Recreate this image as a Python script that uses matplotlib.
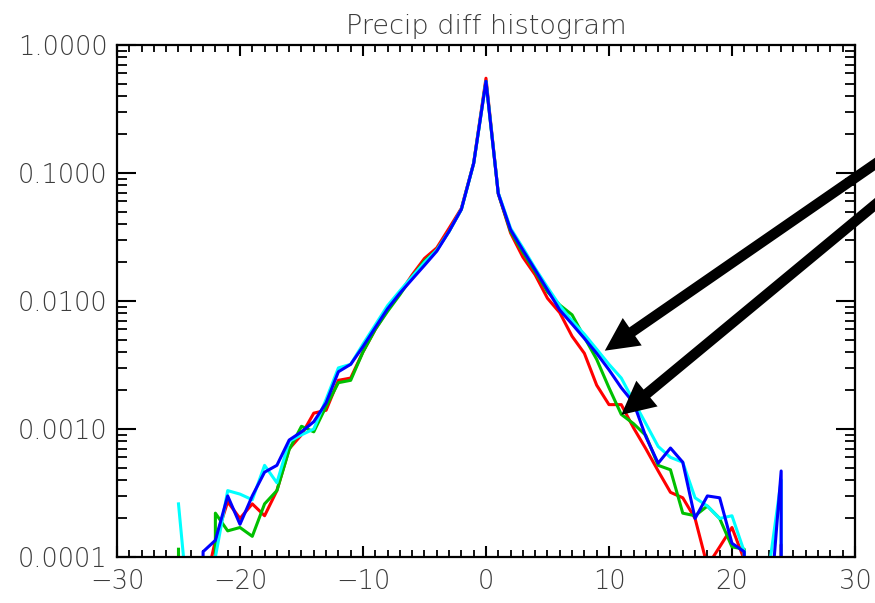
"""
Precipitation difference histogram: fraction of points per 1-unit bin,
four runs overlaid on a log axis, with two annotation arrows.
"""

import matplotlib
matplotlib.use("Agg")
import matplotlib.pyplot as plt
from matplotlib.ticker import MultipleLocator, LogLocator, FixedLocator, NullFormatter
import numpy as np

# bin centres
bins = np.arange(-25, 26)

# histogram fraction per bin (0 = empty bin)
frac_red = [
    0, 0, 5e-5, 1.35e-4, 2.7e-4, 2.0e-4, 2.6e-4, 2.1e-4, 3.3e-4, 7.0e-4,
    9.0e-4, 1.33e-3, 1.4e-3, 2.4e-3, 2.5e-3, 4.0e-3, 6.0e-3, 8.5e-3, 1.15e-2, 1.6e-2,
    2.15e-2, 2.6e-2, 3.7e-2, 5.3e-2, 0.12, 0.55,
    0.069, 0.034, 0.022, 0.016, 0.0105, 0.0081, 0.0053, 0.0039, 0.0022, 0.00155,
    0.00155, 0.00102, 7.0e-4, 4.7e-4, 3.2e-4, 2.9e-4, 2.0e-4, 8.5e-5, 1.2e-4, 1.7e-4,
    9.5e-5, 0, 0, 1.25e-4, 0,
]
frac_green = [
    1.15e-4, 0, 0, 2.2e-4, 1.6e-4, 1.7e-4, 1.45e-4, 2.6e-4, 3.3e-4, 6.9e-4,
    1.05e-3, 9.5e-4, 1.5e-3, 2.3e-3, 2.4e-3, 4.0e-3, 6.0e-3, 8.3e-3, 1.12e-2, 1.55e-2,
    2.05e-2, 2.5e-2, 3.5e-2, 5.2e-2, 0.119, 0.52,
    0.069, 0.035, 0.024, 0.017, 0.0118, 0.0093, 0.0078, 0.0052, 0.0035, 0.0021,
    0.0013, 0.0011, 8.9e-4, 5.2e-4, 4.8e-4, 2.2e-4, 2.1e-4, 2.5e-4, 2.0e-4, 1.2e-4,
    1.15e-4, 0, 0, 0, 0,
]
frac_cyan = [
    2.6e-4, 2.5e-5, 0, 1.0e-4, 3.3e-4, 3.1e-4, 2.8e-4, 5.2e-4, 3.8e-4, 8.0e-4,
    9.0e-4, 1.0e-3, 1.7e-3, 3.0e-3, 3.2e-3, 4.6e-3, 6.5e-3, 9.2e-3, 1.2e-2, 1.55e-2,
    2.0e-2, 2.5e-2, 3.5e-2, 5.2e-2, 0.119, 0.52,
    0.07, 0.037, 0.026, 0.018, 0.0128, 0.0092, 0.0070, 0.0055, 0.0042, 0.0032,
    0.0025, 0.00165, 0.0011, 7.3e-4, 6.0e-4, 5.5e-4, 2.9e-4, 2.5e-4, 2.0e-4, 2.1e-4,
    1.1e-4, 0, 8e-5, 4.0e-4, 0,
]
frac_blue = [
    0, 0, 1.1e-4, 1.35e-4, 3.0e-4, 1.8e-4, 3.0e-4, 4.6e-4, 5.2e-4, 8.2e-4,
    9.5e-4, 1.14e-3, 1.6e-3, 2.8e-3, 3.2e-3, 4.4e-3, 6.2e-3, 8.7e-3, 1.15e-2, 1.48e-2,
    1.9e-2, 2.45e-2, 3.5e-2, 5.2e-2, 0.119, 0.52,
    0.069, 0.036, 0.025, 0.0175, 0.0122, 0.0085, 0.0066, 0.0051, 0.0039, 0.0029,
    0.0021, 0.0016, 8.7e-4, 5.4e-4, 7.1e-4, 5.5e-4, 2.0e-4, 3.0e-4, 2.9e-4, 1.28e-4,
    1.1e-4, 0, 3e-5, 4.7e-4, 0,
]

series = [
    (frac_red, "#ff0000"),
    (frac_green, "#00c000"),
    (frac_cyan, "#00ffff"),
    (frac_blue, "#0000ff"),
]

# arrow tips (data coords) and tails (figure fraction, just off the right edge)
arrow_tips = [(9.66, 0.00409), (11.0, 0.00129)]
arrow_tails = [(1.03, 0.758), (1.03, 0.6965)]

x_ticks = [-30, -20, -10, 0, 10, 20, 30]
y_ticks = [1e-4, 1e-3, 1e-2, 1e-1, 1.0]

label_color = "#3c3c3c"

fig = plt.figure(figsize=(8.75, 6.03), dpi=100)
ax = fig.add_axes([0.1337, 0.0763, 0.8434, 0.8491])

for values, color in series:
    ax.plot(bins, np.array(values, dtype=float), color=color, linewidth=2.2)

ax.set_yscale("log", nonpositive="clip")
ax.set_xlim(-30, 30)
ax.set_ylim(1e-4, 1.0)

ax.xaxis.set_major_locator(FixedLocator(x_ticks))
ax.xaxis.set_minor_locator(MultipleLocator(1))
ax.yaxis.set_major_locator(FixedLocator(y_ticks))
ax.yaxis.set_minor_locator(LogLocator(base=10, subs=np.arange(2, 10)))
ax.yaxis.set_minor_formatter(NullFormatter())
ax.set_yticklabels([f"{v:.4f}" for v in y_ticks])
ax.set_xticklabels([f"{v:d}".replace("-", "\u2212") for v in x_ticks])

for side in ax.spines.values():
    side.set_linewidth(1.6)
    side.set_color("black")

ax.tick_params(axis="both", which="both", direction="in", top=True, right=True,
               colors="black", labelcolor=label_color, labelsize=18.5)
ax.tick_params(axis="x", which="major", length=8, width=1.5, pad=9)
ax.tick_params(axis="x", which="minor", length=5, width=1.3)
ax.tick_params(axis="y", which="major", length=14, width=1.5, pad=7)
ax.tick_params(axis="y", which="minor", length=7, width=1.3)
for lbl in ax.get_xticklabels() + ax.get_yticklabels():
    lbl.set_fontweight("light")

ax.set_title("Precip diff histogram", fontsize=19.5, color=label_color, pad=8,
             fontweight="light")

for tip, tail in zip(arrow_tips, arrow_tails):
    ax.annotate(
        "", xy=tip, xycoords="data",
        xytext=tail, textcoords="figure fraction",
        annotation_clip=False,
        arrowprops=dict(arrowstyle="simple,head_length=2.4,head_width=2.4,tail_width=0.75",
                        mutation_scale=10, facecolor="black", edgecolor="none",
                        lw=0, shrinkA=0, shrinkB=0),
    )

fig.savefig("out.png", dpi=100)
